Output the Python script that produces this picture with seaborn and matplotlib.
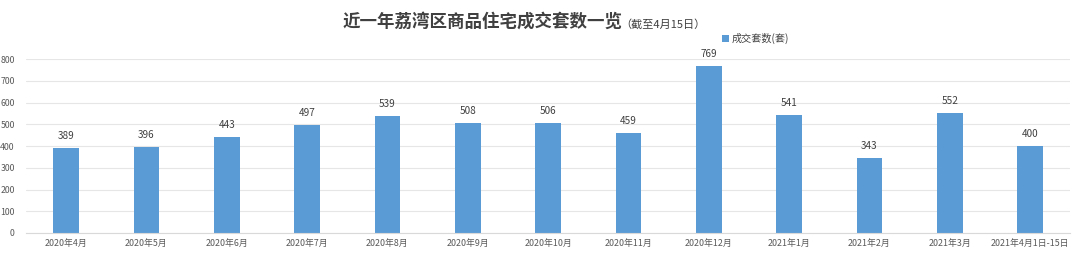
import matplotlib
matplotlib.use("Agg")
import matplotlib.pyplot as plt
import seaborn as sns
import pandas as pd
from matplotlib.patches import Rectangle

categories = ["2020年4月", "2020年5月", "2020年6月", "2020年7月", "2020年8月", "2020年9月",
              "2020年10月", "2020年11月", "2020年12月", "2021年1月", "2021年2月", "2021年3月",
              "2021年4月1日-15日"]
values = [389, 396, 443, 497, 539, 508, 506, 459, 769, 541, 343, 552, 400]
yticks = [0, 100, 200, 300, 400, 500, 600, 700, 800]
series_name = "成交套数(套)"

sns.set_theme(style="white")
plt.rcParams['font.family'] = ['Noto Sans CJK SC', 'DejaVu Sans']

df = pd.DataFrame({"month": categories, "count": values})

fig = plt.figure(figsize=(10.8, 2.57), dpi=100)
ax = fig.add_axes([0.024, 0.0934, 0.967, 0.6766])
color = "#5B9BD5"
sns.barplot(data=df, x="month", y="count", color=color, width=0.32, ax=ax,
            saturation=1, linewidth=0)
ax.set_ylim(0, 800)
ax.set_xlim(-0.5, len(categories) - 0.5)
ax.set_yticks(yticks)
ax.yaxis.grid(True, color="#E6E6E6", linewidth=0.8)
ax.set_axisbelow(True)
for s in ["top", "right", "left"]:
    ax.spines[s].set_visible(False)
ax.spines["bottom"].set_color("#D9D9D9")
ax.spines["bottom"].set_linewidth(0.8)
ax.set_xlabel("")
ax.set_ylabel("")
ax.tick_params(axis="y", labelsize=6.3, colors="#595959", length=0, pad=8)
ax.tick_params(axis="x", labelsize=6.4, colors="#595959", length=0, pad=4)

for c in ax.containers:
    ax.bar_label(c, labels=[str(v) for v in values], padding=5, fontsize=7.2, color="#404040")

fig.text(0.3175, 0.915, "近一年荔湾区商品住宅成交套数一览", fontsize=12.6, fontweight="bold",
         color="#404040", ha="left", va="center")
fig.text(0.574, 0.905, "（截至4月15日）", fontsize=8, color="#404040", ha="left", va="center")

# legend
fig.patches.append(Rectangle((0.6685, 0.838), 0.0065, 0.026, transform=fig.transFigure,
                             facecolor=color, edgecolor="none"))
fig.text(0.6775, 0.851, series_name, fontsize=7.3, color="#404040", ha="left", va="center")

fig.savefig("out.png", dpi=100)
